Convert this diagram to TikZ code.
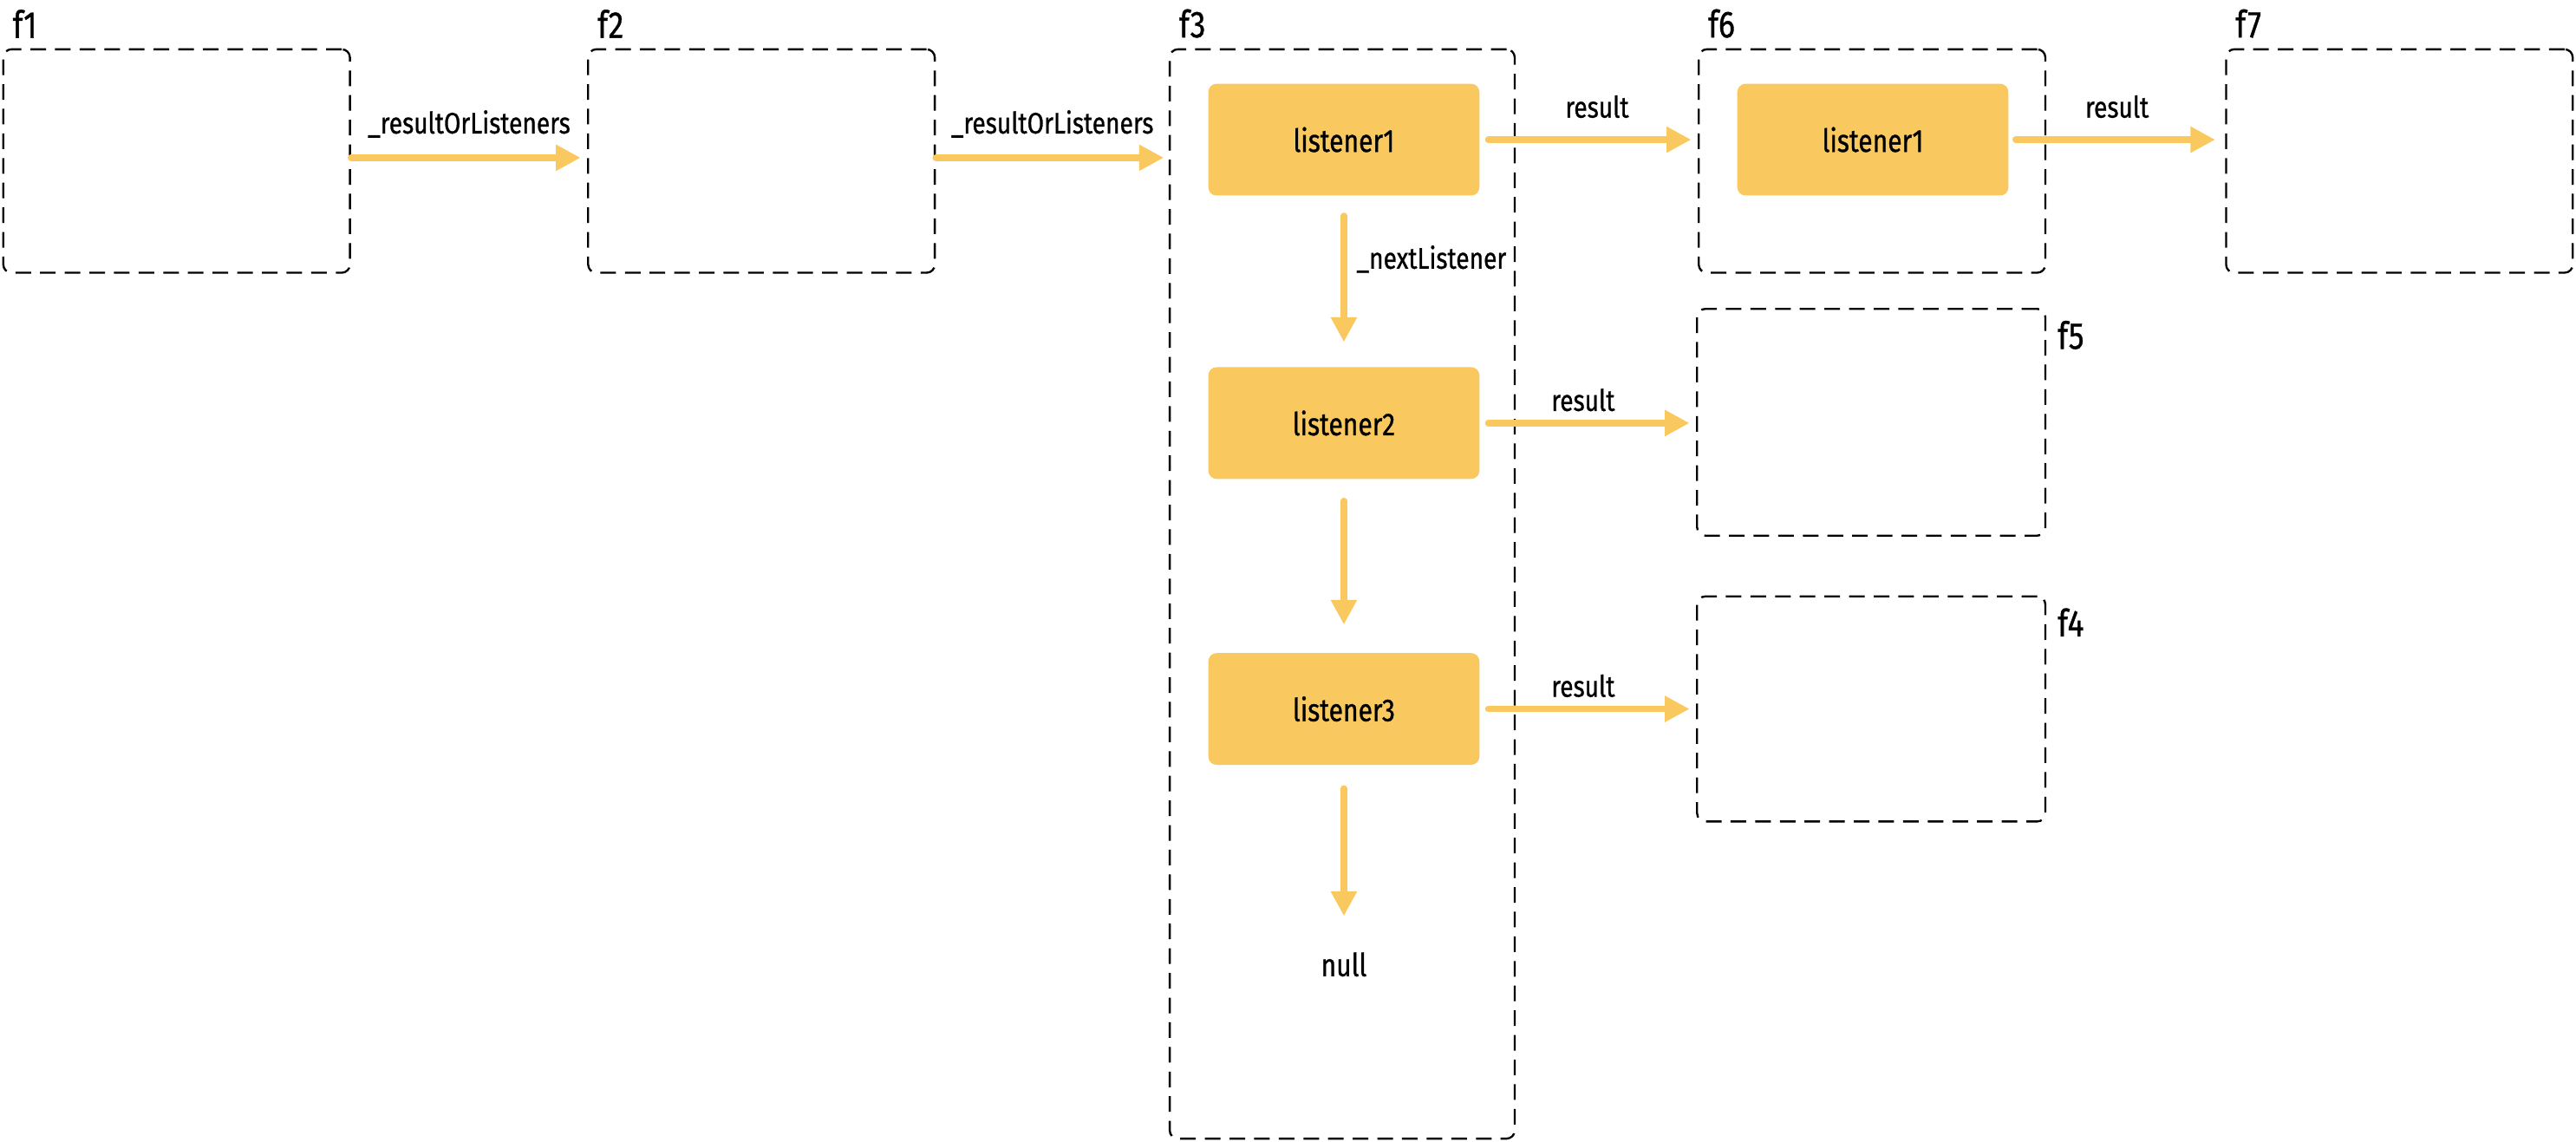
\documentclass[tikz,border=0pt]{standalone}
\usepackage{fontspec}
\setmainfont{Fira Sans}[FakeStretch=0.82, FakeBold=0.8]
\usepackage{xcolor}
\usetikzlibrary{positioning, arrows.meta, calc}
\definecolor{lyellow}{HTML}{F9C95F}

\begin{document}
\begin{tikzpicture}[x=0.2mm, y=-0.2mm,
  frame/.style={draw, dashed, dash pattern=on 1.9mm off 1.1mm, rounded corners=1mm, line width=0.7pt,
                minimum width=#1, minimum height=27.2mm, inner sep=0pt},
  frame/.default=42.2mm,
  lst/.style={fill=lyellow, rounded corners=1mm, minimum width=33mm, minimum height=13.6mm, font=\fontsize{11}{12}\selectfont},
  tag/.style={font=\fontsize{13}{14}\selectfont, inner sep=0pt},
  lbl/.style={font=\fontsize{10.3}{11}\selectfont, inner sep=1pt},
  arr/.style={-{Triangle[length=3mm, width=3mm]}, draw=lyellow, line width=2.2pt, line cap=round},
]
\useasboundingbox (0,0) rectangle (1568,695);

% ── promise frames ──
\node[frame] (f1) at (107.5,98) {};
\node[frame] (f2) at (463.5,98) {};
\node[frame=42mm, minimum height=132.6mm] (f3) at (817,361.5) {};
\node[frame] (f6) at (1139.5,98) {};
\node[frame] (f7) at (1460.5,98) {};
\node[frame=42.4mm, minimum height=27.6mm] (f5) at (1139,257) {};
\node[frame=42.4mm, minimum height=27.4mm] (f4) at (1139,431.5) {};

% ── frame names ──
\node[tag, anchor=south west] at ([xshift=1.2mm, yshift=1.2mm]f1.north west) {f1};
\node[tag, anchor=south west] at ([xshift=1.2mm, yshift=1.2mm]f2.north west) {f2};
\node[tag, anchor=south west] at ([xshift=1.2mm, yshift=1.2mm]f3.north west) {f3};
\node[tag, anchor=south west] at ([xshift=1.2mm, yshift=1.2mm]f6.north west) {f6};
\node[tag, anchor=south west] at ([xshift=1.2mm, yshift=1.2mm]f7.north west) {f7};
\node[tag, anchor=north west] at ([xshift=1.3mm, yshift=-1.5mm]f5.north east) {f5};
\node[tag, anchor=north west] at ([xshift=1.3mm, yshift=-1.5mm]f4.north east) {f4};

% ── listeners ──
\node[lst] (l1) at (818,85) {listener1};
\node[lst] (l2) at (818,257.5) {listener2};
\node[lst] (l3) at (818,431.5) {listener3};
\node[lst] (m1) at (1140,85) {listener1};
\node[lbl, font=\fontsize{11}{12}\selectfont] (nul) at (818,587) {null};

% ── links ──
\draw[arr, shorten >=0.8mm] ([yshift=0.4mm]f1.east) -- node[lbl, above=1.7mm] {\_resultOrListeners} ([yshift=0.4mm]f2.west);
\draw[arr, shorten >=0.6mm] ([yshift=0.4mm]f2.east) -- node[lbl, above=1.7mm] {\_resultOrListeners} ([yshift=0.4mm]f2.east -| f3.west);
\draw[arr, shorten <=1mm, shorten >=0.8mm] (l1.east) -- node[lbl, above=1.9mm, xshift=1mm] {result} (l1.east -| f6.west);
\draw[arr, shorten <=0.8mm, shorten >=1.2mm] (m1.east) -- node[lbl, above=1.9mm] {result} (m1.east -| f7.west);
\draw[arr, shorten <=1mm, shorten >=0.8mm] (l2.east) -- node[lbl, above=0.7mm, xshift=-0.6mm] {result} (l2.east -| f5.west);
\draw[arr, shorten <=1mm, shorten >=0.8mm] (l3.east) -- node[lbl, above=0.7mm, xshift=-0.6mm] {result} (l3.east -| f4.west);
\draw[arr, shorten <=2.4mm, shorten >=3mm] (l1) -- node[lbl, right=0.8mm, pos=0.37] {\_nextListener} (l2);
\draw[arr, shorten <=2.6mm, shorten >=3.4mm] (l2) -- (l3);
\draw[arr, shorten <=2.8mm, shorten >=4mm] (l3) -- (nul);
\end{tikzpicture}
\end{document}
